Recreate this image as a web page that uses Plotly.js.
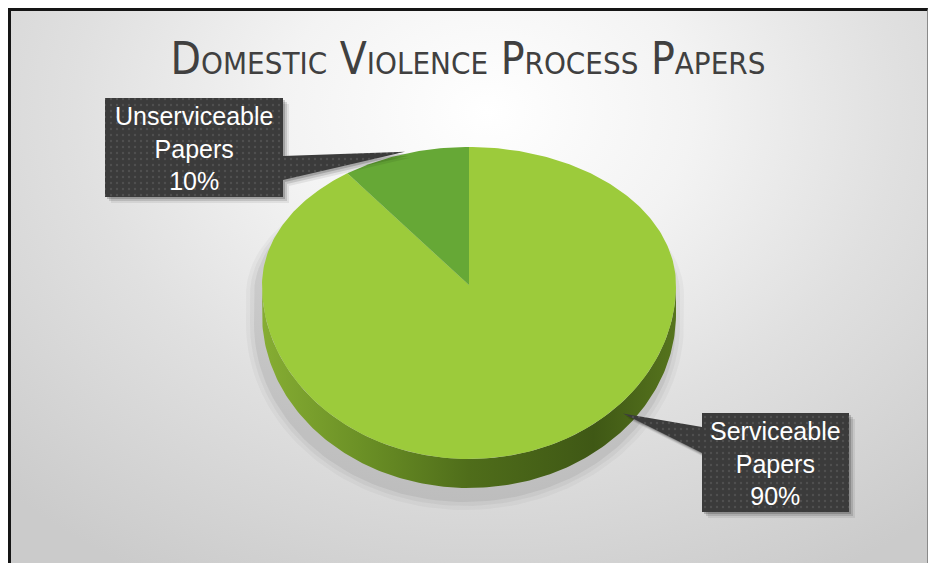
<!DOCTYPE html>
<html>
<head>
<meta charset="utf-8">
<script src="https://cdn.plot.ly/plotly-3.0.1.min.js"></script>
<style>
  html, body { margin: 0; padding: 0; background: #ffffff; }
  #frame {
    position: absolute; left: 8px; top: 8px; width: 916px; height: 560px;
    border-left: 3px solid #151515; border-top: 3px solid #151515; border-right: 1px solid #8a8a8a;
    background: radial-gradient(ellipse 75% 95% at 52% 18%, #ffffff 0%, #f3f3f3 30%, #e0e0e0 60%, #cbcbcb 100%);
  }
  #chart { position: absolute; left: 0; top: 0; width: 928px; height: 563px; }
</style>
</head>
<body>
<div id="frame"></div>
<div id="chart"></div>
<script>
// ---- data ----
const labels = ['Serviceable Papers', 'Unserviceable Papers'];
const values = [90, 10];
const sliceColors = ['#9ccb3b', '#66a836'];
const chartTitle = 'Domestic Violence Process Papers';

// ---- layout geometry (pixel space axes) ----
const W = 928, H = 563;
const cx = 469, cy = 285, rx = 207, rTop = 138, rBot = 174, depth = 29;

function pt(deg, dy) {
  const t = deg * Math.PI / 180;
  const c = Math.cos(t);
  const r = c > 0 ? rTop : rBot;
  return [cx + rx * Math.sin(t), cy - r * c + (dy || 0)];
}
function arc(a0, a1, dy) {
  const xs = [], ys = [];
  const n = Math.max(2, Math.ceil(Math.abs(a1 - a0)));
  for (let i = 0; i <= n; i++) {
    const p = pt(a0 + (a1 - a0) * i / n, dy);
    xs.push(p[0]); ys.push(p[1]);
  }
  return [xs, ys];
}

const traces = [];
const total = values.reduce((a, b) => a + b, 0);

// soft shadow under the pie (mostly left and below)
[[12, 0.03], [8, 0.04], [4, 0.06]].forEach(([g, op]) => {
  const xs = [], ys = [];
  for (let a = 0; a <= 360; a += 2) {
    const t = a * Math.PI / 180, c = Math.cos(t);
    const r = (c > 0 ? rTop - 10 : rBot + g);
    xs.push(cx - 4 + (rx + g) * Math.sin(t));
    ys.push(cy + 10 - r * c + (c < 0 ? depth : 0));
  }
  traces.push({ type: 'scatter', mode: 'lines', x: xs, y: ys, fill: 'toself',
    fillcolor: 'rgba(0,0,0,' + op + ')', line: { width: 0 }, hoverinfo: 'skip', showlegend: false });
});

// side of the 3D pie
{
  const top = arc(90, 270, 0);
  const bot = arc(270, 90, depth);
  traces.push({ type: 'scatter', mode: 'lines', x: top[0].concat(bot[0]), y: top[1].concat(bot[1]),
    fill: 'toself', line: { width: 0 }, hoverinfo: 'skip', showlegend: false,
    fillgradient: { type: 'horizontal', colorscale: [[0, '#86ad33'], [0.25, '#6a8f25'], [0.5, '#4f6d1a'], [0.8, '#3f5815'], [1, '#56741d']] } });
}

// slices of the top face (clockwise from 12 o'clock)
const mids = [];
let acc = 0;
values.forEach((v, i) => {
  const a0 = acc / total * 360, a1 = (acc + v) / total * 360;
  acc += v;
  mids.push((a0 + a1) / 2);
  const a = arc(a0, a1, 0);
  traces.push({ type: 'scatter', mode: 'lines', x: [cx].concat(a[0], [cx]), y: [cy].concat(a[1], [cy]),
    fill: 'toself', fillcolor: sliceColors[i], line: { width: 0 }, hoverinfo: 'skip', showlegend: false, name: labels[i] });
});

// callouts
const callouts = [
  { box: [702, 413, 849, 512], tip: pt(132, 12), side: 'left', t0: 427, t1: 453 },
  { box: [105, 98, 283, 197], tip: pt(mids[1], -2), side: 'right', t0: 156, t1: 180 }
];
const annotations = [];
callouts.forEach((c, i) => {
  const [x0, y0, x1, y1] = c.box;
  let xs, ys;
  if (c.side === 'left') {
    xs = [x0, x1, x1, x0, x0, c.tip[0], x0, x0];
    ys = [y0, y0, y1, y1, c.t1, c.tip[1], c.t0, y0];
  } else {
    xs = [x0, x1, x1, c.tip[0], x1, x1, x0, x0];
    ys = [y0, y0, c.t0, c.tip[1], c.t1, y1, y1, y0];
  }
  [[6, 0.07], [4, 0.12], [2, 0.18]].forEach(([o, op]) => {
    traces.push({ type: 'scatter', mode: 'lines', x: xs.map(v => v + o), y: ys.map(v => v + o),
      fill: 'toself', fillcolor: 'rgba(0,0,0,' + op + ')', line: { width: 0 }, hoverinfo: 'skip', showlegend: false });
  });
  traces.push({ type: 'scatter', mode: 'lines', x: xs, y: ys, fill: 'toself', fillcolor: '#3b3b3b',
    fillpattern: { shape: '.', bgcolor: '#3b3b3b', fgcolor: '#4f4f4f', size: 6, solidity: 0.12 },
    line: { width: 0 }, hoverinfo: 'skip', showlegend: false });
  const pct = Math.round(values[i] / total * 100) + '%';
  annotations.push({ x: (x0 + x1) / 2, y: (y0 + y1) / 2 + 1, xref: 'x', yref: 'y', showarrow: false,
    text: labels[i].split(' ').join('<br>') + '<br>' + pct,
    font: { family: 'Liberation Sans, Arial, sans-serif', size: 25, color: '#ffffff' }, align: 'center' });
});

const layout = {
  width: W, height: H,
  margin: { l: 0, r: 0, t: 0, b: 0 },
  paper_bgcolor: 'rgba(0,0,0,0)', plot_bgcolor: 'rgba(0,0,0,0)',
  xaxis: { range: [0, W], visible: false, fixedrange: true },
  yaxis: { range: [H, 0], visible: false, fixedrange: true },
  showlegend: false,
  title: { text: chartTitle, x: 468 / W, xanchor: 'center', y: 1 - 59 / H, yanchor: 'middle', yref: 'container',
    font: { family: 'DejaVu Sans Condensed, sans-serif', size: 44, color: '#404040', variant: 'small-caps' } },
  annotations: annotations
};

Plotly.newPlot('chart', traces, layout, { staticPlot: true, displayModeBar: false });
</script>
</body>
</html>
